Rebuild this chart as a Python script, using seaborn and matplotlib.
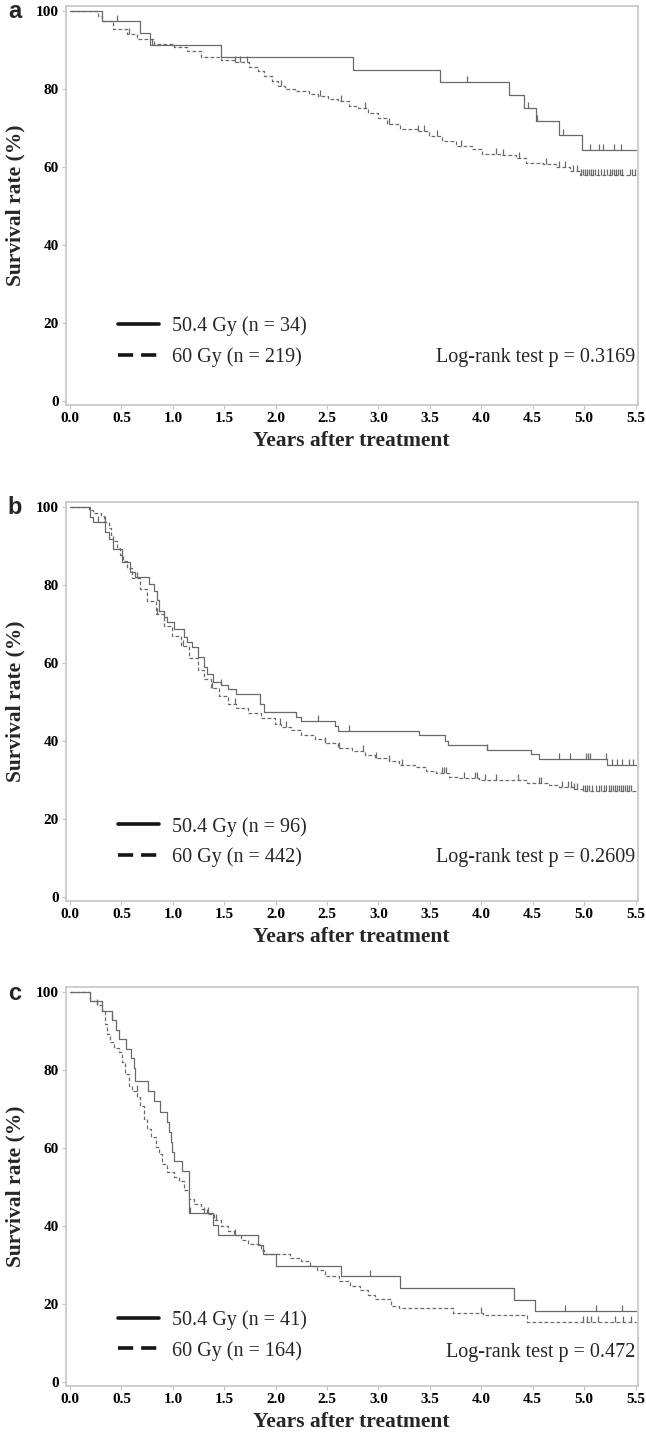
import numpy as np
import pandas as pd
import matplotlib
matplotlib.use("Agg")
import matplotlib.pyplot as plt
from matplotlib.lines import Line2D
from matplotlib.path import Path
from matplotlib.markers import MarkerStyle
import seaborn as sns

# ---- data (years, survival %) ----
# panel a
a_t504 = [0, 0.31, 0.685, 0.78, 1.47, 2.75, 3.60, 4.27, 4.42, 4.53, 4.76, 4.98]
a_s504 = [100, 97.3, 94.3, 91.2, 88.1, 84.9, 81.7, 78.5, 75.1, 71.8, 68.3, 64.4]
a_c504 = [0.46, 0.80, 3.86, 4.45, 4.54, 4.79, 5.06, 5.14, 5.18, 5.29, 5.36]
a_t60 = [0, 0.277, 0.31, 0.42, 0.55, 0.65, 0.815, 1.01, 1.14, 1.27, 1.47, 1.60, 1.74,
         1.83, 1.89, 1.96, 2.02, 2.09, 2.19, 2.32, 2.41, 2.51, 2.61, 2.71, 2.80, 2.90,
         3.00, 3.08, 3.21, 3.38, 3.49, 3.62, 3.75, 3.91, 4.01, 4.18, 4.34, 4.43, 4.60,
         4.73, 4.86, 4.96]
a_s60 = [100, 98.7, 97.3, 95.3, 94.0, 92.7, 91.5, 90.8, 89.7, 88.2, 87.4, 86.8, 85.6,
         84.6, 83.3, 82.1, 80.8, 79.9, 79.5, 78.8, 78.2, 77.5, 76.9, 75.6, 75.0, 73.9,
         72.5, 70.9, 69.7, 69.2, 67.9, 66.7, 65.4, 64.5, 63.4, 63.1, 62.4, 61.1, 60.7,
         60.0, 59.0, 57.9]
a_c60 = [0.57, 1.60, 1.65, 1.72, 2.05, 2.43, 2.64, 2.87, 3.10, 3.38, 3.44, 3.57, 3.80,
         4.14, 4.21, 4.37, 4.63, 4.76, 4.81, 4.89, 4.93, 4.97, 4.99, 5.01, 5.03, 5.05,
         5.07, 5.09, 5.11, 5.13, 5.16, 5.19, 5.22, 5.25, 5.27, 5.29, 5.31, 5.33, 5.35,
         5.37, 5.45, 5.47, 5.49]

# panel b
b_t504 = [0, 0.196, 0.228, 0.34, 0.375, 0.42, 0.505, 0.587, 0.636, 0.766, 0.815, 0.848,
          0.864, 0.913, 0.946, 1.011, 1.109, 1.142, 1.19, 1.24, 1.30, 1.337, 1.386, 1.468,
          1.533, 1.615, 1.843, 1.89, 2.20, 2.25, 2.58, 2.61, 3.39, 3.65, 3.68, 4.06, 4.48,
          4.56, 5.22]
b_s504 = [100, 97.3, 96.0, 93.5, 91.7, 89.2, 85.8, 83.2, 82.0, 80.2, 78.5, 76.0,
          73.4, 71.7, 70.4, 68.7, 66.6, 65.3, 64.0, 61.5, 58.9, 57.2, 55.1, 54.3,
          53.4, 52.1, 49.5, 47.4, 46.1, 45.0, 43.8, 42.5, 41.4, 40.1, 39.0, 37.8, 36.7,
          35.3, 33.8]
b_c504 = [0.27, 1.47, 2.41, 2.71, 4.06, 4.76, 4.86, 5.02, 5.04, 5.06, 5.21, 5.27, 5.32,
          5.37, 5.44, 5.48]
b_t60 = [0, 0.18, 0.228, 0.30, 0.326, 0.375, 0.40, 0.42, 0.455, 0.489, 0.52, 0.554,
         0.603, 0.685, 0.75, 0.832, 0.913, 0.995, 1.076, 1.158, 1.24, 1.305, 1.37, 1.45,
         1.533, 1.615, 1.73, 1.86, 1.99, 2.05, 2.15, 2.25, 2.38, 2.48, 2.61, 2.74, 2.87,
         2.97, 3.10, 3.20, 3.36, 3.46, 3.56, 3.69, 3.78, 3.98, 4.44, 4.66, 4.76, 4.89, 4.99]
b_s60 = [100, 99.2, 98.5, 97.5, 96.0, 94.5, 92.8, 91.2, 89.5, 87.7, 86.0, 84.3,
         81.8, 78.8, 75.8, 72.4, 69.4, 66.9, 64.3, 61.3, 58.3, 55.8, 53.6, 51.5,
         49.4, 48.5, 47.2, 46.0, 44.3, 43.6, 42.8, 41.5, 40.4, 39.4, 38.1, 37.3, 36.4,
         35.6, 34.9, 33.9, 33.4, 32.3, 31.7, 30.8, 30.4, 30.0, 29.3, 28.7, 28.3, 27.8, 27.2]
b_c60 = [0.34, 0.65, 0.85, 1.10, 1.38, 1.60, 2.04, 2.10, 2.48, 2.62, 2.85, 2.98, 3.10,
         3.23, 3.62, 3.64, 3.66, 3.83, 3.94, 3.96, 4.04, 4.14, 4.36, 4.56, 4.58, 4.78,
         4.84, 4.87, 4.90, 4.93, 4.99, 5.01, 5.03, 5.05, 5.08, 5.12, 5.14, 5.16, 5.19,
         5.21, 5.24, 5.26, 5.28, 5.30, 5.32, 5.34, 5.36, 5.38, 5.40, 5.42, 5.44, 5.46]

# panel c
c_t504 = [0, 0.196, 0.31, 0.41, 0.45, 0.48, 0.54, 0.59, 0.62, 0.636, 0.757, 0.815, 0.88,
          0.946, 0.962, 0.978, 0.995, 1.011, 1.09, 1.158, 1.386, 1.435, 1.826, 1.875,
          2.006, 2.635, 3.21, 4.32, 4.52]
c_s504 = [100, 97.6, 95.1, 92.7, 90.2, 87.8, 85.4, 82.9, 80.5, 77.2, 74.5, 71.9, 69.3,
          66.5, 64.0, 61.5, 59.0, 56.6, 54.0, 43.4, 40.3, 37.8, 35.0, 32.7,
          29.7, 27.2, 24.0, 21.1, 18.1]
c_c504 = [0.41, 1.17, 1.30, 1.34, 2.92, 4.81, 5.12, 5.37]
c_t60 = [0, 0.196, 0.26, 0.31, 0.342, 0.359, 0.391, 0.424, 0.473, 0.506, 0.538, 0.571,
         0.603, 0.652, 0.685, 0.717, 0.75, 0.783, 0.832, 0.864, 0.897, 0.946, 1.011,
         1.06, 1.109, 1.158, 1.207, 1.272, 1.337, 1.40, 1.468, 1.533, 1.598, 1.663,
         1.729, 1.859, 1.89, 2.14, 2.25, 2.33, 2.40, 2.48, 2.62, 2.72, 2.82, 2.90, 2.97,
         3.12, 3.20, 3.72, 4.02, 4.44]
c_s60 = [100, 97.6, 96.5, 95.0, 91.7, 89.1, 87.0, 85.7, 84.5, 81.9, 78.9, 75.9,
         74.6, 72.9, 70.8, 67.4, 64.8, 62.7, 60.1, 58.4, 55.9, 53.8, 52.5,
         51.6, 49.1, 46.9, 45.7, 44.4, 43.1, 41.4, 40.1, 38.8, 37.6, 36.3,
         35.5, 33.8, 32.8, 31.9, 31.1, 29.8, 28.6, 27.3, 26.0, 24.7, 23.5, 22.2, 21.3,
         19.6, 19.0, 17.7, 17.1, 15.4]
c_c60 = [0.26, 0.65, 1.42, 1.60, 4.00, 4.99, 5.03, 5.07, 5.13, 5.30, 5.38, 5.46]

letters = ["a", "b", "c"]
labels_504 = ["50.4 Gy (n = 34)", "50.4 Gy (n = 96)", "50.4 Gy (n = 41)"]
labels_60 = ["60 Gy (n = 219)", "60 Gy (n = 442)", "60 Gy (n = 164)"]
p_texts = ["Log-rank test p = 0.3169", "Log-rank test p = 0.2609", "Log-rank test p = 0.472"]
legend_y = [15.15, 14.1, 12.0]
ptext_y = [11.1, 10.2, 7.7]

panels = [
    (a_t504, a_s504, a_c504, a_t60, a_s60, a_c60),
    (b_t504, b_s504, b_c504, b_t60, b_s60, b_c60),
    (c_t504, c_s504, c_c504, c_t60, c_s60, c_c60),
]

sns.set_style("white")
plt.rcParams["font.family"] = ["Liberation Serif", "DejaVu Serif"]

GREY = "#6a6a6a"
FRAME = "#c6c6c6"
DASH = (0, (3.0, 1.8))
tick_up = MarkerStyle(Path([(0, 0), (0, 1)]))

fig = plt.figure(figsize=(6.46, 14.43), dpi=100)
bottoms = [0.7193, 0.3756, 0.0395]
letter_y = [1 - 12 / 1443, 1 - 507 / 1443, 1 - 993 / 1443]

for i, (t1, s1, c1, t2, s2, c2) in enumerate(panels):
    ax = fig.add_axes([0.102, bottoms[i], 0.885, 0.2765])

    for t, s, c, ls in [(t2, s2, c2, DASH), (t1, s1, c1, "-")]:
        df = pd.DataFrame({"t": np.append(t, 5.5), "s": np.append(s, s[-1])})
        sns.lineplot(data=df, x="t", y="s", drawstyle="steps-post", estimator=None,
                     sort=False, color=GREY, lw=0.9, linestyle=ls, ax=ax)
        # censored observations drawn as small upward ticks on the curve
        idx = np.searchsorted(t, c, side="right") - 1
        cy = np.asarray(s)[idx]
        sns.scatterplot(x=c, y=cy, marker=tick_up, s=85, color=GREY, edgecolor=GREY,
                        linewidth=0.9, ax=ax)

    ax.set_xlim(-0.04, 5.52)
    ax.set_ylim(-1, 101.2)
    ax.set_xticks(np.arange(0, 5.51, 0.5))
    ax.set_xticklabels([f"{v:.1f}" for v in np.arange(0, 5.51, 0.5)])
    ax.set_yticks([0, 20, 40, 60, 80, 100])
    ax.tick_params(bottom=True, left=True, direction="out", length=3, width=0.8,
                   color=FRAME, labelsize=11, pad=2, labelcolor="black")
    for lab in ax.get_xticklabels() + ax.get_yticklabels():
        lab.set_fontweight("bold")
    for sp in ax.spines.values():
        sp.set_color(FRAME)
        sp.set_linewidth(1.2)

    ax.set_ylabel("Survival rate (%)", fontsize=15.5, fontweight="bold")
    ax.yaxis.set_label_coords(-0.07, 0.5)
    ax.set_xlabel("Years after treatment", fontsize=15.5, fontweight="bold")
    ax.xaxis.set_label_coords(0.5, -0.066)

    handles = [Line2D([], [], color="#151515", lw=2.6, ls="-"),
               Line2D([], [], color="#151515", lw=2.6, ls=(0, (4.2, 2.2)))]
    ax.legend(handles, [labels_504[i], labels_60[i]], loc="center left",
              bbox_to_anchor=(0.092, (legend_y[i] + 1) / 102.2), frameon=False,
              handlelength=2.0, handletextpad=0.65, labelspacing=0.55, borderpad=0,
              borderaxespad=0, prop={"family": "Liberation Serif", "size": 14.5})
    ax.text(5.5, ptext_y[i], p_texts[i], ha="right", va="center", fontsize=14.5)

    fig.text(0.012, letter_y[i], letters[i], fontsize=17, fontweight="bold",
             family="Liberation Sans", va="center", ha="left")

fig.savefig("out.png", dpi=100)
